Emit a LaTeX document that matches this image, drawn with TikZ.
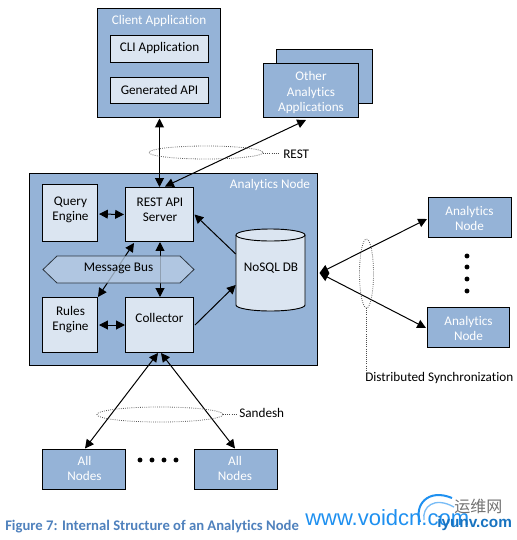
\documentclass[tikz,border=0pt]{standalone}
\usepackage{fontspec}
\setmainfont{Carlito}[Ligatures=CommonOff]
\newfontfamily\cjkfont{Noto Sans CJK SC}
\newfontfamily\wmfont{Liberation Sans}
\usetikzlibrary{arrows.meta,calc}
\definecolor{nodeblue}{HTML}{95B3D7}
\definecolor{paleblue}{HTML}{DBE5F1}
\definecolor{busblue}{HTML}{B8CCE4}
\definecolor{captionblue}{HTML}{4F81BD}
\definecolor{wmblue}{HTML}{1E90F0}
\tikzset{
  x=0.75pt,y=-0.75pt,
  every node/.style={font=\fontsize{9.9}{11.2}\selectfont,align=center,inner sep=0pt,text=black},
  bluebox/.style={draw=black,fill=nodeblue,line width=0.7pt},
  palebox/.style={draw=black,fill=paleblue,line width=0.7pt},
  whitetext/.style={text=white},
  link/.style={line width=0.75pt,{Triangle[length=6.6pt,width=6.6pt]}-{Triangle[length=6.6pt,width=6.6pt]}},
  oneway/.style={line width=0.75pt,-{Triangle[length=6.6pt,width=6.6pt]}},
  ring/.style={draw=black!65,densely dotted,line width=0.6pt},
  leader/.style={draw=black!70,densely dotted,line width=0.6pt},
  dotmark/.style={circle,fill=black,minimum size=3.7pt},
}
\newcommand{\boxat}[7]{\node[#2,minimum width=#5*0.75pt-0.7pt,minimum height=#6*0.75pt-0.7pt] (#1) at (#3,#4) {#7};}
\begin{document}
\begin{tikzpicture}
\useasboundingbox (0,0) rectangle (517,540);
\fill[white] (0,0) rectangle (517,540);
% client application
\boxat{client}{bluebox}{159}{63}{124}{110}{}
\node[whitetext] (clienttitle) at (159,20.5) {Client Application};
\boxat{cli}{palebox}{159.5}{49}{99}{28}{}
\node (clitext) at (159.5,47.5) {CLI Application};
\boxat{genapi}{palebox}{159.5}{90.5}{99}{27}{}
\node (genapitext) at (159.5,89.5) {Generated API};
% other applications
\boxat{otherback}{bluebox}{324.5}{76.5}{97}{55}{}
\boxat{other}{bluebox}{311}{90.5}{96}{55}{}
\node[whitetext] (othertext) at (311,92.5) {Other\\[0.3pt]Analytics\\[0.3pt]Applications};
% analytics node
\boxat{analytics}{bluebox}{173.5}{269.5}{289}{193}{}
\node[whitetext] (analyticstitle) at (270,185) {Analytics Node};
\boxat{query}{palebox}{70}{213}{56}{58}{}
\node (querytext) at (70.5,209.5) {Query\\Engine};
\boxat{rest}{palebox}{159.5}{214.5}{69}{55}{}
\node (resttext) at (160,210) {REST API\\Server};
\boxat{rules}{palebox}{70}{325}{56}{56}{}
\node (rulestext) at (70.5,320) {Rules\\Engine};
\boxat{collector}{palebox}{159.5}{325}{69}{56}{}
\node (collectortext) at (159.5,318) {Collector};
% database
\fill[paleblue] (236,235) -- (236,305) arc[start angle=180,end angle=0,x radius=34.5,y radius=6] -- (305,235) arc[start angle=0,end angle=-180,x radius=34.5,y radius=6] -- cycle;
\draw[line width=0.7pt] (236,235) -- (236,305) arc[start angle=180,end angle=0,x radius=34.5,y radius=6] -- (305,235);
\draw[line width=0.7pt] (270.5,235) ellipse[x radius=34.5,y radius=6];
\node[minimum width=51.75pt,minimum height=61.5pt] (db) at (270.5,270) {};
\node (dblabel) at (271,268) {NoSQL DB};
% internal connectors
\coordinate (restbottom) at (160,242);
\coordinate (colltop) at (160,297);
\draw[link] (restbottom) -- (colltop);
\draw[link] ($(rest.south west)+(9,1)$) -- (rules.north east);
\draw[link] ($(query.east)+(1,1)$) -- ($(rest.west)+(-1,0)$);
\draw[link] ($(rules.east)+(1,0)$) -- (collector.west);
\draw[oneway] ($(db.west)+(0,-16)$) -- ($(rest.east)+(0.5,0)$);
\draw[oneway] ($(collector.east)+(1,0)$) -- ($(db.west)+(0,15)$);
% message bus
\draw[draw=black!70!nodeblue,fill=busblue,fill opacity=0.78,line width=0.6pt] (43,269.5) -- (57,256) -- (180,256) -- (194,269.5) -- (180,283) -- (57,283) -- cycle;
\node (bus) at (118.5,268.5) {Message Bus};
% rest links
\draw[link] (159.5,118.5) -- (159.5,187);
\draw[link] (306,120) -- (165,186.5);
\draw[ring] (206,152.5) ellipse[x radius=57,y radius=6.5];
\draw[leader] (263,153) -- (278,153);
\node[anchor=west] (restlabel) at (283,154) {REST};
% right hand nodes
\boxat{an1}{bluebox}{470}{217.5}{84}{41}{}
\node[whitetext] (an1text) at (469.5,218) {Analytics\\Node};
\boxat{an2}{bluebox}{468.5}{327.5}{83}{41}{}
\node[whitetext] (an2text) at (468.5,328) {Analytics\\Node};
\coordinate (syncpoint) at (319.5,273);
\draw[link] (syncpoint) -- (427,219);
\draw[link] (syncpoint) -- (426,328);
\node[dotmark] (rd1) at (467,256) {};
\node[dotmark] (rd2) at (467,267) {};
\node[dotmark] (rd3) at (467,279) {};
\node[dotmark] (rd4) at (467,291) {};
\draw[ring] (366.5,273.5) ellipse[x radius=7,y radius=34.5];
\draw[leader] (366.5,308) -- (366.5,372);
\node[anchor=west] (synclabel) at (365,378) {Distributed Synchronization};
% bottom nodes
\boxat{all1}{bluebox}{84}{469}{84}{41}{}
\node[whitetext] (all1text) at (84.5,468.5) {All\\Nodes};
\boxat{all2}{bluebox}{236}{469}{84}{41}{}
\node[whitetext] (all2text) at (235,468.5) {All\\Nodes};
\draw[link] ($(collector.south)+(-1.5,0)$) -- (85,448.5);
\draw[link] ($(collector.south)+(1.5,0)$) -- (235,448.5);
\node[dotmark] (bd1) at (140,460) {};
\node[dotmark] (bd2) at (152,460) {};
\node[dotmark] (bd3) at (164,460) {};
\node[dotmark] (bd4) at (176,460) {};
\draw[ring] (160,414.5) ellipse[x radius=63,y radius=7.5];
\draw[leader] (223,414) -- (237,414);
\node[anchor=west] (sandeshlabel) at (239,413) {Sandesh};
% caption
\node[anchor=west,font=\fontsize{11}{13}\bfseries\selectfont,text=captionblue] (caption) at (5,527) {Figure 7: Internal Structure of an Analytics Node};
% watermark
\draw[wmblue,line width=1.5pt] (420,522) .. controls (414,505) and (428,488) .. (452,498);
\draw[wmblue!60,line width=1pt] (424,520) .. controls (422,507) and (434,496) .. (454,507);
\node[anchor=west,font=\fontsize{16.5}{18}\wmfont\selectfont,text=wmblue] (watermark) at (305,518) {www.voidcn.com};
\node[anchor=west,font=\fontsize{12}{13}\cjkfont\selectfont,text=black!55] (wmcjk) at (454,506) {运维网};
\node[anchor=west,font=\fontsize{11.5}{12}\wmfont\bfseries\selectfont,text=wmblue!80!black] (wmsite) at (437,524) {iyunv.com};
\end{tikzpicture}
\end{document}
